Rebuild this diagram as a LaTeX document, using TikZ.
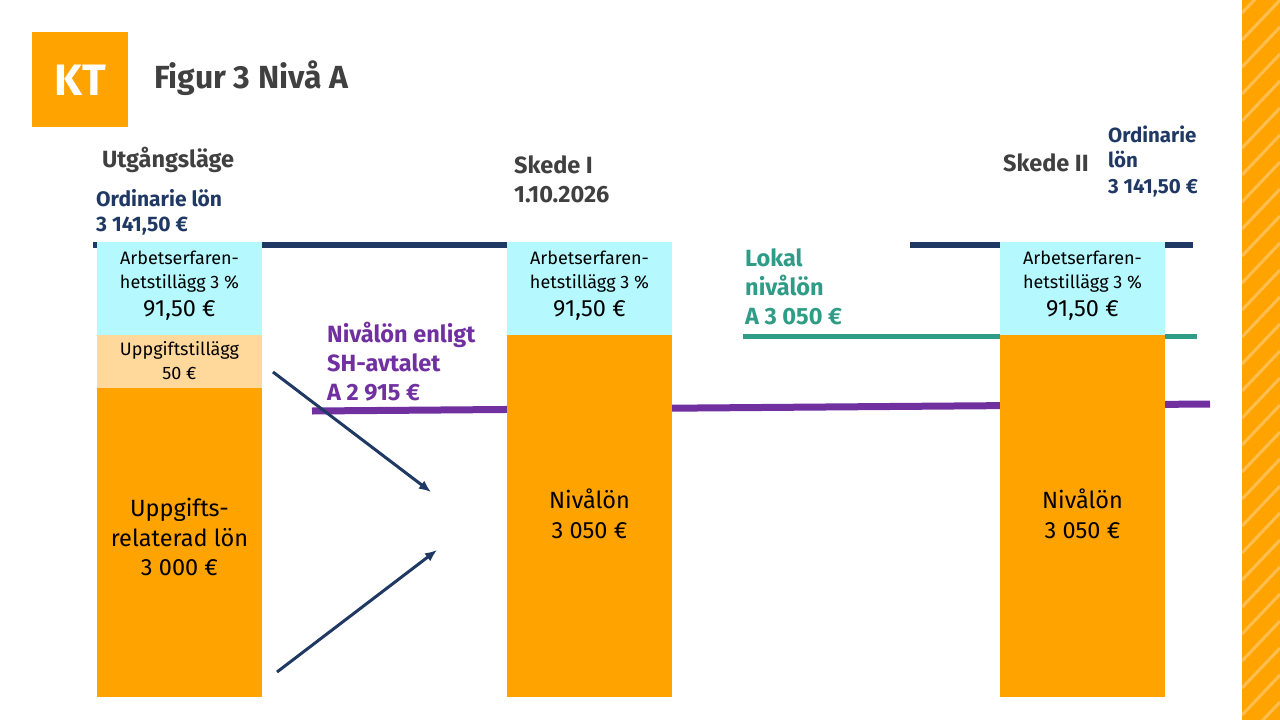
\documentclass[tikz,border=0pt]{standalone}
\usepackage{fontspec}
\setmainfont{Fira Sans}
\usetikzlibrary{arrows.meta}
\begin{document}
\begin{tikzpicture}[x=1pt,y=-1pt,
  txt/.style={inner sep=0,anchor=west,align=left,font=\bfseries\fontsize{23.5}{29}\selectfont},
  btxt/.style={inner sep=0,align=center,text=black},
  small/.style={font=\fontsize{18}{24}\selectfont},
  big/.style={font=\fontsize{23.5}{29.5}\selectfont},
  arr/.style={draw=navy,line width=3pt,-{Latex[length=12pt,width=10pt]}}]
\definecolor{org}{HTML}{FFA300}
\definecolor{cyanb}{HTML}{B5F8FE}
\definecolor{peach}{HTML}{FFD89B}
\definecolor{navy}{HTML}{203864}
\definecolor{purp}{HTML}{7030A0}
\definecolor{teal}{HTML}{2E9C86}
\definecolor{gry}{HTML}{404040}
\useasboundingbox (0,0) rectangle (1280,720);
\fill[white] (0,0) rectangle (1280,720);
% stripe
\begin{scope}
\clip (1242,0) rectangle (1280,720);
\fill[org] (1242,0) rectangle (1280,720);
\foreach \k in {-2,...,30}
  \draw[white,opacity=0.3,line width=3pt] (1242,\k*27+40) -- (1280,\k*27);
\end{scope}
% logo
\fill[org] (32,32) rectangle (128,127);
\node[text=white,font=\bfseries\fontsize{44}{44}\selectfont,inner sep=0] (kt) at (80,80) {KT};
\node[txt,text=gry,font=\bfseries\fontsize{32}{34}\selectfont] (title) at (154,78) {Figur 3 Nivå A};
% lines
\draw[navy,line width=6pt] (93,245) coordinate (n1) -- (507,245) coordinate (n2);
\draw[navy,line width=6pt] (910,245) coordinate (n3) -- (1193,245) coordinate (n4);
\draw[purp,line width=7pt] (312,411) coordinate (p1) -- (1210,404) coordinate (p2);
\draw[teal,line width=5pt] (743,336) coordinate (t1) -- (1197,336) coordinate (t2);
% box 1
\fill[cyanb] (97,242) rectangle (262,335);
\fill[peach] (97,335) rectangle (262,388);
\fill[org] (97,388) rectangle (262,697);
\node[btxt,small] (b1a) at (179.5,272) {Arbetserfaren-\\hetstillägg 3 \%};
\node[btxt,big] (b1b) at (179.5,310) {91,50 €};
\node[btxt,small] (b1c) at (179.5,361) {Uppgiftstillägg\\50 €};
\node[btxt,big] (b1d) at (179.5,537) {Uppgifts-\\relaterad lön\\3 000 €};
% box 2
\fill[cyanb] (507,242) rectangle (672,335);
\fill[org] (507,335) rectangle (672,697);
\node[btxt,small] (b2a) at (589.5,272) {Arbetserfaren-\\hetstillägg 3 \%};
\node[btxt,big] (b2b) at (589.5,310) {91,50 €};
\node[btxt,big] (b2c) at (589.5,514) {Nivålön\\3 050 €};
% box 3
\fill[cyanb] (1000,242) rectangle (1165,335);
\fill[org] (1000,335) rectangle (1165,697);
\node[btxt,small] (b3a) at (1082.5,272) {Arbetserfaren-\\hetstillägg 3 \%};
\node[btxt,big] (b3b) at (1082.5,310) {91,50 €};
\node[btxt,big] (b3c) at (1082.5,514) {Nivålön\\3 050 €};
% arrows
\coordinate (a1s) at (273,372); \coordinate (a1e) at (431,492);
\coordinate (a2s) at (277,672); \coordinate (a2e) at (437,550);
\draw[arr] (a1s) -- (a1e);
\draw[arr] (a2s) -- (a2e);
% labels
\node[txt,text=gry] (utg) at (102,160) {Utgångsläge};
\node[txt,text=navy,font=\bfseries\fontsize{21}{25}\selectfont] (ord1) at (96,212) {Ordinarie lön\\3 141,50 €};
\node[txt,text=gry] (sk1) at (514,179) {Skede I\\1.10.2026};
\node[txt,text=gry] (sk2) at (1003,163) {Skede II};
\node[txt,text=navy,font=\bfseries\fontsize{20.5}{25.5}\selectfont] (ord2) at (1108,161) {Ordinarie\\lön\\3 141,50 €};
\node[txt,text=purp] (sh) at (327,362) {Nivålön enligt\\SH-avtalet\\A 2 915 €};
\node[txt,text=teal] (lok) at (745,287) {Lokal\\nivålön\\A 3 050 €};
\end{tikzpicture}
\end{document}
